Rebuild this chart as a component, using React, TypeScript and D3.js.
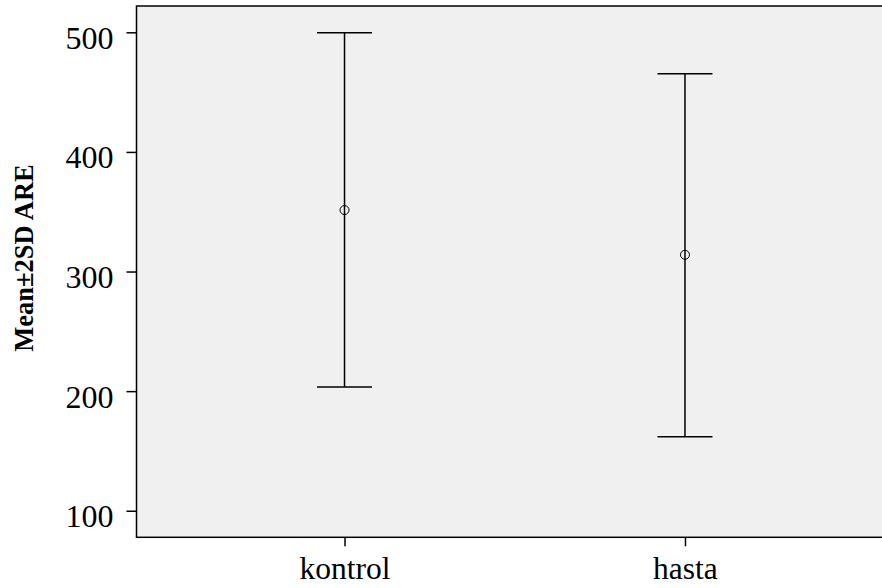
import React, { useEffect, useRef } from 'react'
import * as d3 from 'd3'

// error bar chart: mean ± 2SD of ARE per group
const groups = ['kontrol', 'hasta']
const means = [351.4, 314.0]
const upper = [499.6, 465.4]
const lower = [203.4, 161.9]
const yTicks = [100, 200, 300, 400, 500]

const W = 882
const H = 588

function drawChart(node: SVGSVGElement) {
  const svg = d3.select(node)
  svg.selectAll('*').remove()

  const left = 136.5, right = 893, top = 6, bottom = 537.3

  const y = d3.scaleLinear().domain([77.8, 522]).range([bottom, top])
  const x = d3.scalePoint<string>().domain(groups).range([left, right]).padding(0.611)

  const font = '"Liberation Serif", "Times New Roman", serif'

  // plot background
  svg.append('rect')
    .attr('x', left)
    .attr('y', top)
    .attr('width', right - left)
    .attr('height', bottom - top)
    .attr('fill', '#f0f0f0')
    .attr('stroke', '#000')
    .attr('stroke-width', 1.5)

  // y axis
  const yAxis = svg.append('g')
    .attr('transform', 'translate(' + left + ',0)')
    .call(d3.axisLeft(y).tickValues(yTicks).tickSize(10).tickPadding(13).tickFormat(d3.format('d')))
  yAxis.select('.domain').remove()
  yAxis.selectAll('line').attr('stroke', '#000').attr('stroke-width', 1.5)
  yAxis.selectAll('text')
    .attr('fill', '#000')
    .attr('font-family', font)
    .attr('font-size', 32)
    .attr('dy', '0.5em')

  // x axis
  const xAxis = svg.append('g')
    .attr('transform', 'translate(0,' + bottom + ')')
    .call(d3.axisBottom(x).tickSize(9).tickPadding(10))
  xAxis.select('.domain').remove()
  xAxis.selectAll('line').attr('stroke', '#000').attr('stroke-width', 1.5)
  xAxis.selectAll('text')
    .attr('fill', '#000')
    .attr('font-family', font)
    .attr('font-size', 31.5)

  // y axis caption
  svg.append('text')
    .attr('transform', 'translate(33,258) rotate(-90)')
    .attr('text-anchor', 'middle')
    .attr('font-family', font)
    .attr('font-weight', 'bold')
    .attr('font-size', 26.5)
    .attr('fill', '#000')
    .text('Mean±2SD ARE')

  const data = groups.map((g, i) => ({ g, mean: means[i], hi: upper[i], lo: lower[i] }))
  const bars = svg.selectAll('.err')
    .data(data)
    .enter()
    .append('g')
    .attr('class', 'err')

  const capW = 27.5

  bars.append('line')
    .attr('x1', d => x(d.g)!)
    .attr('x2', d => x(d.g)!)
    .attr('y1', d => y(d.hi))
    .attr('y2', d => y(d.lo))
    .attr('stroke', '#000')
    .attr('stroke-width', 1.5)

  bars.append('line')
    .attr('x1', d => x(d.g)! - capW)
    .attr('x2', d => x(d.g)! + capW)
    .attr('y1', d => y(d.hi))
    .attr('y2', d => y(d.hi))
    .attr('stroke', '#000')
    .attr('stroke-width', 1.5)

  bars.append('line')
    .attr('x1', d => x(d.g)! - capW)
    .attr('x2', d => x(d.g)! + capW)
    .attr('y1', d => y(d.lo))
    .attr('y2', d => y(d.lo))
    .attr('stroke', '#000')
    .attr('stroke-width', 1.5)

  bars.append('circle')
    .attr('cx', d => x(d.g)!)
    .attr('cy', d => y(d.mean))
    .attr('r', 4.5)
    .attr('fill', 'none')
    .attr('stroke', '#000')
    .attr('stroke-width', 1)
}

export default function App() {
  const ref = useRef<SVGSVGElement>(null)
  useEffect(() => {
    if (ref.current) drawChart(ref.current)
  }, [])
  return (
    <svg
      ref={ref}
      width={W}
      height={H}
      style={{ position: 'absolute', left: 0, top: 0, background: '#fff' }}
    />
  )
}
